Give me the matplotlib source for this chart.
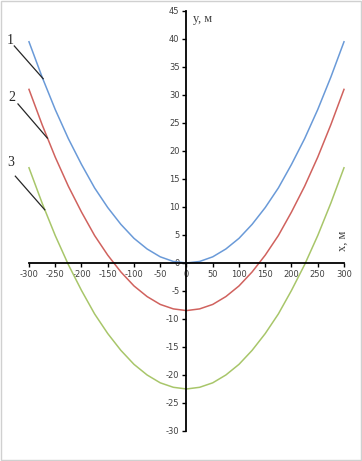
import matplotlib
matplotlib.use("Agg")
import matplotlib.pyplot as plt
from matplotlib.patches import Rectangle

# x positions (m) and curve values
x_vals = [-300, -275, -250, -225, -200, -175, -150, -125, -100, -75, -50, -25, 0,
          25, 50, 75, 100, 125, 150, 175, 200, 225, 250, 275, 300]
y1 = [39.5, 33.2, 27.4, 22.2, 17.6, 13.4, 9.9, 6.9, 4.4, 2.5, 1.1, 0.27, 0.0,
      0.27, 1.1, 2.5, 4.4, 6.9, 9.9, 13.4, 17.6, 22.2, 27.4, 33.2, 39.5]
y2 = [31.0, 24.7, 18.9, 13.7, 9.1, 4.9, 1.4, -1.6, -4.1, -6.0, -7.4, -8.2, -8.5,
      -8.2, -7.4, -6.0, -4.1, -1.6, 1.4, 4.9, 9.1, 13.7, 18.9, 24.7, 31.0]
y3 = [17.0, 10.7, 4.9, -0.3, -4.9, -9.1, -12.6, -15.6, -18.1, -20.0, -21.4, -22.2, -22.5,
      -22.2, -21.4, -20.0, -18.1, -15.6, -12.6, -9.1, -4.9, -0.3, 4.9, 10.7, 17.0]
curve_labels = ["1", "2", "3"]
x_ticks = [-300, -250, -200, -150, -100, -50, 0, 50, 100, 150, 200, 250, 300]
y_ticks = list(range(-30, 50, 5))

colors = ["#6A9AD8", "#D0625E", "#A8C66A"]

fig = plt.figure(figsize=(3.62, 4.61), dpi=100)
fig.patch.set_facecolor("white")
ax = fig.add_axes([0, 0, 1, 1])
ax.set_facecolor("none")
ax.set_xlim(-355.2, 334.3)
ax.set_ylim(-35.36, 46.96)

for ys, c in zip([y1, y2, y3], colors):
    ax.plot(x_vals, ys, color=c, lw=1.1)

# leader lines with numbers
leaders = [((-328, 38.75), (-273, 32.9)),
           ((-321, 28.4), (-265, 22.3)),
           ((-326, 15.5), (-270, 9.5))]
label_pos = [(-336, 39.8), (-332, 29.5), (-334, 17.9)]
for (p0, p1), lp, lab in zip(leaders, label_pos, curve_labels):
    ax.plot([p0[0], p1[0]], [p0[1], p1[1]], color="#262626", lw=0.9)
    ax.text(lp[0], lp[1], lab, family="Liberation Serif", fontsize=10,
            ha="center", va="center", color="#262626")

for s in ["top", "right"]:
    ax.spines[s].set_visible(False)
ax.spines["left"].set_position(("data", 0))
ax.spines["bottom"].set_position(("data", 0))
ax.spines["left"].set_bounds(-30, 45)
ax.spines["bottom"].set_bounds(-300, 300)
for s in ["left", "bottom"]:
    ax.spines[s].set_linewidth(1.3)
    ax.spines[s].set_color("black")

ax.set_xticks(x_ticks)
ax.set_yticks(y_ticks)
ax.set_xticklabels([str(v) for v in x_ticks])
ax.set_yticklabels([str(v) for v in y_ticks])
ax.tick_params(axis="both", direction="out", length=3, width=1.0, color="black",
               labelsize=6, labelcolor="#404040", pad=2)

ax.text(12, 44.7, "у, м", family="Liberation Serif", fontsize=9,
        ha="left", va="top", color="#404040")
ax.text(297, 2.1, "х, м", family="Liberation Serif", fontsize=9, rotation=90,
        ha="center", va="bottom", color="#404040")

fig.patches.append(Rectangle((0.002, 0.002), 0.996, 0.996, transform=fig.transFigure,
                             fill=False, edgecolor="#d0d0d0", lw=1.0))

fig.savefig("out.png", dpi=100)
